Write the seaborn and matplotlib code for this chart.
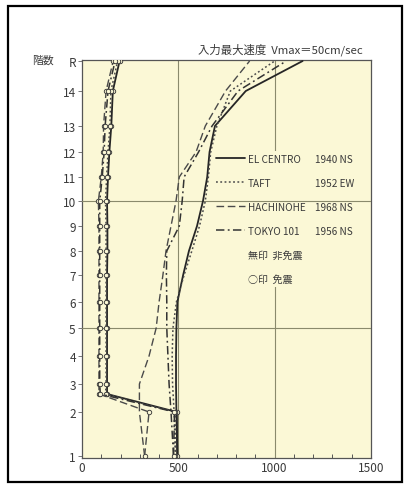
import matplotlib
matplotlib.use("Agg")
import matplotlib.pyplot as plt
import seaborn as sns
import pandas as pd
from matplotlib.lines import Line2D
from matplotlib.patches import Rectangle

# ---------------- data ----------------
floor_labels = ['1', '2', '3', '4', '5', '6', '7', '8', '9', '10', '11', '12', '13', '14', 'R']
floor_height = [2, 46, 74, 102, 130, 156, 183, 207, 232, 257, 281, 306, 332, 367, 397]
iso_base_height = 64  # isolated superstructure base level (above isolation layer)

records = ['EL CENTRO', 'TAFT', 'HACHINOHE', 'TOKYO 101']
record_info = ['1940 NS', '1952 EW', '1968 NS', '1956 NS']

# non-isolated (無印), floors 1..R
el_centro = [495, 490, 488, 488, 490, 495, 525, 555, 597, 628, 650, 662, 690, 850, 1145]
taft = [485, 478, 470, 468, 472, 490, 530, 570, 610, 640, 656, 668, 700, 770, 1000]
hachinohe = [325, 298, 298, 348, 385, 400, 420, 436, 462, 488, 505, 592, 640, 745, 870]
tokyo101 = [475, 462, 452, 446, 440, 440, 438, 440, 505, 520, 530, 605, 675, 810, 1060]

# isolated (○印): floor 1, floor 2, base, floors 3..R
el_centro_iso = [495, 492, 130, 130, 130, 130, 130, 130, 132, 132, 130, 135, 142, 152, 160, 195]
taft_iso = [485, 485, 122, 125, 125, 125, 125, 125, 125, 125, 122, 128, 135, 145, 150, 185]
hachinohe_iso = [325, 348, 88, 88, 88, 88, 88, 88, 88, 88, 85, 100, 110, 112, 125, 162]
tokyo101_iso = [475, 480, 95, 92, 92, 92, 92, 92, 92, 92, 92, 105, 115, 120, 135, 172]

x_ticks = [0, 500, 1000, 1500]
title_text = '入力最大速度  Vmax＝50cm/sec'
ylabel_text = '階数'
legend_extra = ['無印  非免震', '○印  免震']

# ---------------- build frame ----------------
iso_height = [floor_height[0], floor_height[1], iso_base_height] + floor_height[2:]
non_iso = [el_centro, taft, hachinohe, tokyo101]
iso = [el_centro_iso, taft_iso, hachinohe_iso, tokyo101_iso]
rows = []
for rec, vals in zip(records, non_iso):
    for i, (h, v) in enumerate(zip(floor_height, vals)):
        rows.append(dict(record=rec, kind='non', order=i, height=h, accel=v))
for rec, vals in zip(records, iso):
    for i, (h, v) in enumerate(zip(iso_height, vals)):
        rows.append(dict(record=rec, kind='iso', order=i, height=h, accel=v))
df = pd.DataFrame(rows)

# ---------------- style ----------------
sns.set_style('ticks')
plt.rcParams['font.family'] = ['Noto Sans CJK JP', 'DejaVu Sans']
bg = '#fbf8d6'
text_c = '#3a3a3a'
grid_c = '#8a8a6c'

styles = {
    'EL CENTRO': dict(ls='-', lw=1.3, color='#262626'),
    'TAFT': dict(ls=(0, (1.2, 1.6)), lw=1.1, color='#4a4a4a'),
    'HACHINOHE': dict(ls=(0, (5.5, 2.6)), lw=1.0, color='#4a4a4a'),
    'TOKYO 101': dict(ls=(0, (5.5, 2.2, 1.2, 2.2)), lw=1.1, color='#333333'),
}

fig = plt.figure(figsize=(4.05, 4.85), dpi=100)
fig.patch.set_facecolor('white')
ax = fig.add_axes([82 / 405, (485 - 459) / 485, (371 - 82) / 405, (459 - 61) / 485])
ax.set_facecolor(bg)

# grid lines
ax.axvline(500, color=grid_c, lw=0.8, zorder=1)
ax.axvline(1000, color=grid_c, lw=0.8, zorder=1)
ax.axhline(floor_height[4], color=grid_c, lw=0.8, zorder=3)
ax.axhline(floor_height[9], color=grid_c, lw=0.8, zorder=3)

for (rec, kind), g in df.groupby(['record', 'kind'], sort=False):
    g = g.sort_values('order')
    st = styles[rec]
    kw = dict(color=st['color'], linewidth=st['lw'], linestyle=st['ls'])
    if kind == 'iso':
        kw.update(marker='o', markersize=3.2, markerfacecolor=bg,
                  markeredgecolor='#3a3a3a', markeredgewidth=0.65)
    sns.lineplot(data=g, x='accel', y='height', sort=False, estimator=None,
                 ax=ax, legend=False, zorder=4, **kw)

ax.set_xlim(0, 1500)
ax.set_ylim(0, 398)
ax.set_xticks(x_ticks)
ax.set_xticks(range(0, 1501, 100), minor=True)
ax.set_xticklabels([str(t) for t in x_ticks])
ax.set_yticks(floor_height)
ax.set_yticklabels(floor_labels)
ax.set_xlabel('')
ax.set_ylabel('')
ax.tick_params(axis='x', which='both', direction='in', length=3, width=0.7,
               colors='#555555', labelcolor=text_c, labelsize=8.5, pad=2)
ax.tick_params(axis='y', direction='out', length=3, width=0.7,
               colors='#777777', labelcolor=text_c, labelsize=8.5, pad=1.5)
for s in ax.spines.values():
    s.set_color('#555555')
    s.set_linewidth(0.9)
    s.set_visible(True)

# legend
handles = [Line2D([], [], color=styles[r]['color'], lw=styles[r]['lw'],
                  ls=styles[r]['ls']) for r in records]
handles += [Line2D([], [], ls='none') for _ in legend_extra]
labels = records + legend_extra
leg = ax.legend(handles, labels, loc='upper left', bbox_to_anchor=(0.455, 0.772),
                frameon=True, fontsize=7.2, handlelength=2.9, handletextpad=0.25,
                labelspacing=1.4, borderpad=0.3, borderaxespad=0)
leg.get_frame().set_facecolor(bg)
leg.get_frame().set_edgecolor('none')
leg.get_frame().set_alpha(1)
leg.set_zorder(2)
for t in leg.get_texts():
    t.set_color(text_c)

fig.canvas.draw()
inv = ax.transAxes.inverted()
for t, info in zip(leg.get_texts()[:4], record_info):
    bb = t.get_window_extent()
    yc = inv.transform((0, (bb.y0 + bb.y1) / 2))[1]
    ax.text(0.807, yc, info, transform=ax.transAxes, va='center', ha='left',
            fontsize=7.2, color=text_c, zorder=6)

fig.text(363 / 405, (485 - 50) / 485, title_text, ha='right', va='center',
         fontsize=8.2, color=text_c)
fig.text(43 / 405, (485 - 61) / 485, ylabel_text, ha='center', va='center',
         fontsize=7.8, color=text_c)

fig.add_artist(Rectangle((8 / 405, 2 / 485), (402 - 8) / 405, (478 - 2) / 485,
                         transform=fig.transFigure, fill=False, lw=1.6,
                         edgecolor='black'))

fig.savefig('out.png', dpi=100, facecolor='white')
